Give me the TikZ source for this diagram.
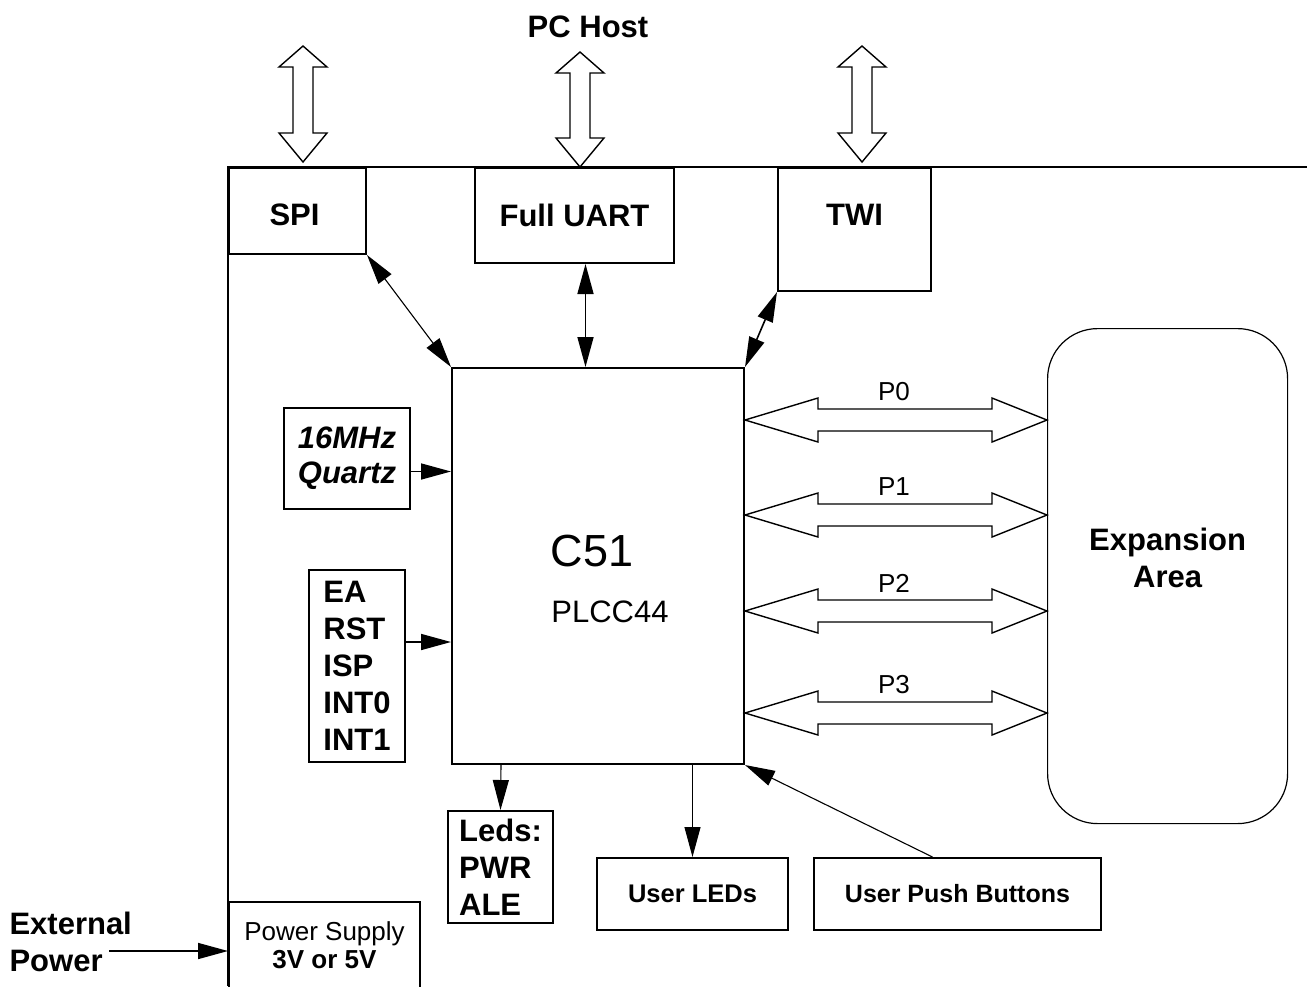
\documentclass[tikz,border=0pt]{standalone}
\usepackage{fontspec}
\setmainfont{Liberation Sans}
\usetikzlibrary{arrows.meta,calc}

\begin{document}
\begin{tikzpicture}[x=1pt, y=-1pt, >={Triangle[length=30pt,width=16pt]},
  blk/.style={draw, line width=2pt, inner sep=0pt, anchor=north west, align=center, font=\bfseries\fontsize{31}{37}\selectfont},
  lbl/.style={font=\bfseries\fontsize{31}{37}\selectfont, align=center},
  port/.style={font=\fontsize{26}{30}\selectfont},
  bus/.style={draw, line width=1.4pt, fill=white},
  arr/.style={->, line width=1.6pt},
  wire/.style={line width=1.1pt}]

\useasboundingbox (0,0) rectangle (1307,986);

% board outline
\draw[line width=2pt] (1307,167) -| (228,986);

\node[lbl] (host) at (588,27) {PC Host};

% host side blocks
\node[blk, minimum width=137pt, minimum height=86pt, label={[lbl, xshift=-3pt, yshift=-4pt]center:SPI}] (spi) at (228,167) {};
\node[blk, minimum width=199pt, minimum height=95pt] (uart) at (474,167) {Full UART};
\node[blk, minimum width=153pt, minimum height=123pt, label={[lbl, yshift=15pt]center:TWI}] (twi) at (777,167) {};

% hollow arrows to the host
\foreach \x/\t/\b in {303/46/162, 580/52/167, 862/46/162}
  \draw[bus] (\x,\t) -- ++(24,21) -- ++(-14,0) -- ++(0,\b-\t-50) -- ++(14,0) -- (\x,\b)
    -- ++(-24,-29) -- ++(14,0) -- ++(0,-\b+\t+50) -- ++(-14,0) -- cycle;

% the controller
\node[blk, minimum width=292pt, minimum height=396pt,
  label={[font=\fontsize{45}{50}\selectfont, xshift=-6pt, yshift=15pt]center:C51},
  label={[font=\fontsize{31}{36}\selectfont, xshift=12pt, yshift=-46pt]center:PLCC44}] (c51) at (451,367) {};

\node[blk, minimum width=126pt, minimum height=101pt, font=\bfseries\itshape\fontsize{31}{35}\selectfont] (quartz) at (283,407) {16MHz\\Quartz};
\node[blk, minimum width=96pt, minimum height=192pt, align=left] (sigs) at (308,569) {EA\\RST\\ISP\\INT0\\INT1};
\node[blk, minimum width=105pt, minimum height=112pt, align=left] (leds) at (447,810) {Leds:\\PWR\\ALE};
\node[blk, minimum width=191pt, minimum height=72pt, font=\bfseries\fontsize{25.5}{28}\selectfont] (uleds) at (596,857) {User LEDs};
\node[blk, minimum width=287pt, minimum height=72pt, font=\bfseries\fontsize{25}{28}\selectfont] (ubtn) at (813,857) {User Push Buttons};
\node[blk, minimum width=191pt, minimum height=86pt, font=\fontsize{26}{28}\selectfont] (psu) at (228,901) {Power Supply\\\textbf{3V or 5V}};

\node[draw, line width=1.2pt, rounded corners=50pt, minimum width=240pt, minimum height=495pt, anchor=north west,
  label={[lbl, yshift=18pt]center:Expansion\\Area}] (exp) at (1047,328) {};

\node[lbl, align=left, anchor=west] (extpwr) at (6,942) {External\\Power};
\coordinate (pwrin) at (109,951);

% ports
\foreach \y/\p in {420/P0, 515/P1, 611/P2, 713/P3} {
  \draw[bus] (c51.east |- 0,\y) -- ++(73,-22) -- ++(0,11) -- ++(174,0) -- ++(0,-11) -- (exp.west |- 0,\y)
    -- ++(-55,22) -- ++(0,-11) -- ++(-174,0) -- ++(0,11) -- cycle;
  \node[port] (lab\p) at (894,\y-28) {\p};
}

% links
\draw[<->, wire] (spi.south east) -- (c51.north west);
\draw[<->, line width=1.6pt] ([xshift=11pt]uart.south) -- ([xshift=11pt]uart.south |- c51.north);
\draw[<->, line width=1.6pt] (twi.south west) -- (c51.north east);
\draw[arr] ([yshift=-13pt]quartz.east) -- ([yshift=-13pt]quartz.east -| c51.west);
\draw[arr] ([yshift=24pt]sigs.east) -- ([yshift=24pt]sigs.east -| c51.west);
\draw[->, wire] ([xshift=-97pt]c51.south) -- (leds.north);
\draw[->, wire] (c51.south -| uleds.north) -- (uleds.north);
\draw[->, wire] ([xshift=-25pt]ubtn.north) -- (c51.south east);
\draw[arr] (pwrin) -- (pwrin -| psu.west);
\end{tikzpicture}
\end{document}
